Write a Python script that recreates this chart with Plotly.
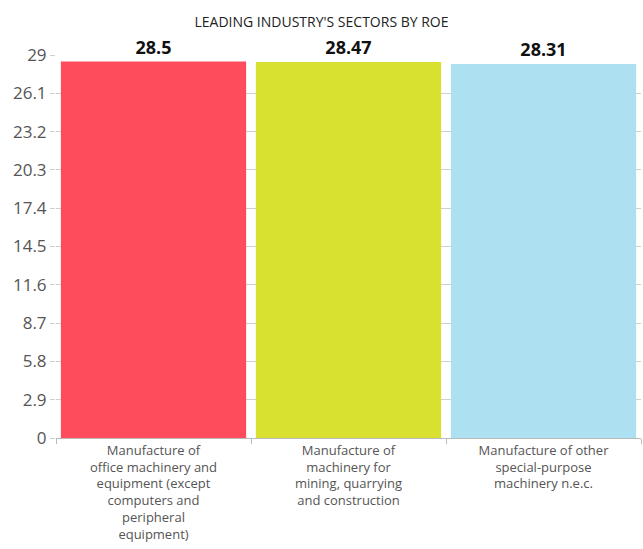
import plotly.graph_objects as go

categories = [
    "Manufacture of<br>office machinery and<br>equipment (except<br>computers and<br>peripheral<br>equipment)",
    "Manufacture of<br>machinery for<br>mining, quarrying<br>and construction",
    "Manufacture of other<br>special-purpose<br>machinery n.e.c.",
]
values = [28.5, 28.47, 28.31]
value_labels = ["28.5", "28.47", "28.31"]
colors = ["#FF4C5C", "#D8E030", "#ADE1F2"]
tick_vals = [0, 2.9, 5.8, 8.7, 11.6, 14.5, 17.4, 20.3, 23.2, 26.1, 29]
tick_text = ["0", "2.9", "5.8", "8.7", "11.6", "14.5", "17.4", "20.3", "23.2", "26.1", "29"]

font_family = "Open Sans, Noto Sans, sans-serif"

fig = go.Figure(
    go.Bar(
        x=categories,
        y=values,
        marker=dict(color=colors, line=dict(width=0)),
        text=value_labels,
        textposition="outside",
        textfont=dict(size=18, color="#111", family=font_family, weight="bold"),
        cliponaxis=False,
        hoverinfo="skip",
    )
)

fig.update_layout(
    width=643,
    height=549,
    margin=dict(l=56, r=2, t=55, b=111),
    paper_bgcolor="white",
    plot_bgcolor="white",
    bargap=0.05,
    showlegend=False,
    title=dict(
        text="LEADING INDUSTRY'S SECTORS BY ROE",
        x=0.5,
        xanchor="center",
        y=1 - 22 / 549,
        yanchor="middle",
        font=dict(size=14, color="#222", family=font_family),
    ),
    font=dict(family=font_family),
)

fig.update_yaxes(
    range=[0, 29],
    tickvals=tick_vals,
    ticktext=tick_text,
    ticks="outside",
    ticklen=5,
    tickcolor="#d0d0d0",
    tickfont=dict(size=17, color="#555"),
    showgrid=True,
    gridcolor="#d0d0d0",
    gridwidth=1,
    zeroline=False,
    showline=False,
    automargin=False,
)

fig.update_xaxes(
    showline=True,
    linecolor="#bbb",
    linewidth=1,
    ticks="outside",
    tickson="boundaries",
    ticklen=5,
    tickcolor="#bbb",
    tickfont=dict(size=13, color="#555"),
    tickangle=0,
    automargin=False,
)

fig.write_html(
    "out.html",
    config={"displayModeBar": False},
    post_script="document.body.style.margin='0';document.body.style.overflow='hidden';",
)
